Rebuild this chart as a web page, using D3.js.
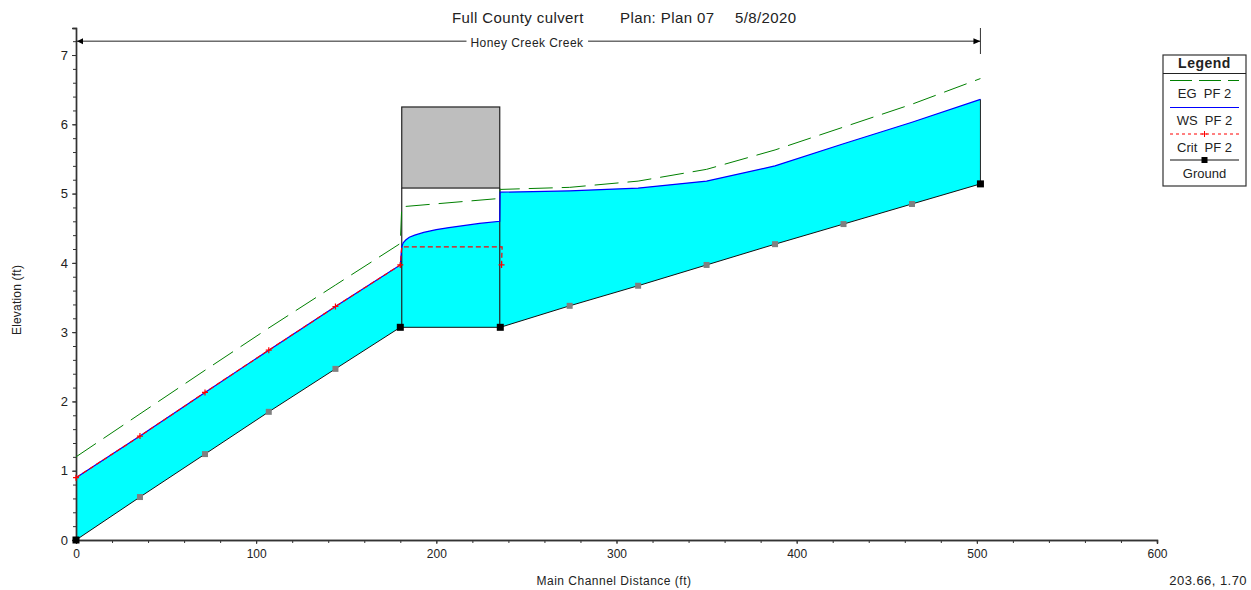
<!DOCTYPE html>
<html>
<head>
<meta charset="utf-8">
<script src="https://cdn.jsdelivr.net/npm/d3@7"></script>
<style>
  body { margin: 0; background: #fff; }
  text { font-family: "Liberation Sans", Arial, sans-serif; fill: #222; }
  .tick line, .domain { stroke: #333; }
</style>
</head>
<body>
<div id="container"></div>
<script>
let w = 1251;
let h = 590;

// station (ft) and elevation (ft)
let groundX = [0, 35.5, 71.6, 107, 144, 180, 235.5, 274, 312, 350, 388, 426, 464, 502];
let groundY = [0, 0.62, 1.24, 1.85, 2.47, 3.07, 3.07, 3.38, 3.67, 3.97, 4.27, 4.56, 4.85, 5.14];
let groundSolid = [0, 180, 235.5, 502];

let wsX = [0, 35.5, 71.6, 107, 144, 180, 180.8, 181.6, 183, 185, 188, 193, 200, 207, 224, 235.2, 235.4, 274, 312, 350, 388, 426, 464, 502];
let wsY = [0.9, 1.5, 2.13, 2.74, 3.37, 3.97, 4.23, 4.29, 4.33, 4.37, 4.4, 4.44, 4.48, 4.51, 4.57, 4.6, 5.02, 5.04, 5.08, 5.18, 5.4, 5.72, 6.03, 6.36];

let egX = [0, 35.5, 71.6, 107, 144, 180, 180.8, 235.2, 235.4, 274, 312, 350, 388, 426, 464, 502];
let egY = [1.2, 1.82, 2.45, 3.06, 3.68, 4.28, 4.81, 4.93, 5.06, 5.09, 5.18, 5.35, 5.63, 5.96, 6.29, 6.66];

let critX = [0, 35.5, 71.6, 107, 144, 180, 180.8, 236.5, 236.2];
let critY = [0.9, 1.5, 2.13, 2.74, 3.37, 3.97, 4.23, 4.23, 3.97];
let critMarks = [0, 35.5, 71.6, 107, 144, 180, 236.2];

let culvertX = [180.8, 235.2];
let culvertSoffit = 5.08;
let culvertRoad = 6.25;
let culvertInvert = 3.07;

let reachEnd = 502;
let reachElev = 7.2;
let reachName = "Honey Creek Creek";

let titleParts = ["Full County culvert", "Plan: Plan 07", "5/8/2020"];
let legendNames = ["EG  PF 2", "WS  PF 2", "Crit  PF 2", "Ground"];

let xMajor = [0, 100, 200, 300, 400, 500, 600];
let yMajor = [0, 1, 2, 3, 4, 5, 6, 7];

let x = d3.scaleLinear().domain([0, 600]).range([76, 1157]);
let y = d3.scaleLinear().domain([0, 7.39]).range([540, 28]);

let viz = d3.select("#container")
  .append("svg")
    .attr("width", w)
    .attr("height", h)
    .style("display", "block")
    .style("background-color", "#fff");

function pairs(xs, ys) {
  return xs.map((d, i) => [d, ys[i]]);
}

let line = d3.line().x(d => x(d[0])).y(d => y(d[1]));

let ground = pairs(groundX, groundY);
let ws = pairs(wsX, wsY);
let eg = pairs(egX, egY);
let crit = pairs(critX, critY);

// water between surface and ground
viz.append("path")
  .attr("d", line(ws.concat(ground.slice().reverse())) + "Z")
  .attr("fill", "#00ffff");

// axes
let xAxis = d3.axisBottom(x).tickValues(xMajor).tickSize(4).tickPadding(5).tickFormat(d3.format("d"));
let xMinor = d3.axisBottom(x).tickValues(d3.range(0, 601, 20)).tickSize(3).tickFormat("");
let yAxis = d3.axisLeft(y).tickValues(yMajor).tickSize(4).tickPadding(4).tickFormat(d3.format("d"));
let yMinor = d3.axisLeft(y).tickValues(d3.range(0, 7.3, 0.2)).tickSize(3).tickFormat("");

viz.append("g").attr("transform", "translate(0,540)").call(xMinor);
viz.append("g").attr("transform", "translate(0,540)").call(xAxis)
  .selectAll("text").style("font-size", "12px");
viz.append("g").attr("transform", "translate(76,0)").call(yMinor);
viz.append("g").attr("transform", "translate(76,0)").call(yAxis)
  .selectAll("text").style("font-size", "13px");
viz.selectAll(".domain").attr("stroke", "#333").attr("stroke-width", 1.4);

// culvert deck
viz.append("rect")
  .attr("x", x(culvertX[0]))
  .attr("y", y(culvertRoad))
  .attr("width", x(culvertX[1]) - x(culvertX[0]))
  .attr("height", y(culvertSoffit) - y(culvertRoad))
  .attr("fill", "#bebebe")
  .attr("stroke", "#222")
  .attr("stroke-width", 1.2);

// culvert faces
culvertX.forEach(function(d) {
  viz.append("path")
    .attr("d", line([[d, culvertSoffit], [d, culvertInvert]]))
    .attr("stroke", "#222")
    .attr("stroke-width", 1.2)
    .attr("fill", "none");
});

// end of the water at the upstream section
viz.append("path")
  .attr("d", line([[reachEnd, wsY[wsY.length - 1]], [reachEnd, groundY[groundY.length - 1]]]))
  .attr("stroke", "#222")
  .attr("fill", "none");

viz.append("path").attr("d", line(ground))
  .attr("fill", "none").attr("stroke", "#111").attr("stroke-width", 1);
viz.append("path").attr("d", line(eg))
  .attr("fill", "none").attr("stroke", "#008000").attr("stroke-width", 1)
  .attr("stroke-dasharray", "24 9");
viz.append("path").attr("d", line(ws))
  .attr("fill", "none").attr("stroke", "#0000ff").attr("stroke-width", 1.2);
viz.append("path").attr("d", line(crit))
  .attr("fill", "none").attr("stroke", "#ff0000").attr("stroke-width", 1.2)
  .attr("stroke-dasharray", "5 3");

// crit marks
viz.selectAll(".critmark").data(critMarks.map(d => crit.find(c => c[0] == d))).enter()
  .append("path")
    .attr("class", "critmark")
    .attr("transform", d => `translate(${x(d[0])},${y(d[1])})`)
    .attr("d", "M-3,0H3M0,-3V3")
    .attr("stroke", "#ff0000")
    .attr("stroke-width", 1.2);

// ground marks, black at the structure and ends
viz.selectAll(".groundmark").data(ground).enter()
  .append("rect")
    .attr("class", "groundmark")
    .attr("x", d => x(d[0]) - (groundSolid.includes(d[0]) ? 3.5 : 3))
    .attr("y", d => y(d[1]) - (groundSolid.includes(d[0]) ? 3.5 : 3))
    .attr("width", d => groundSolid.includes(d[0]) ? 7 : 6)
    .attr("height", d => groundSolid.includes(d[0]) ? 7 : 6)
    .attr("fill", d => groundSolid.includes(d[0]) ? "#000" : "#808080");

// reach arrow
viz.append("path")
  .attr("d", line([[0, reachElev], [reachEnd, reachElev]]))
  .attr("stroke", "#222").attr("fill", "none");
viz.append("path")
  .attr("transform", `translate(${x(0)},${y(reachElev)})`)
  .attr("d", "M1,0L7,-3V3Z").attr("fill", "#000");
viz.append("path")
  .attr("transform", `translate(${x(reachEnd)},${y(reachElev)})`)
  .attr("d", "M0,0L-7,-3V3Z").attr("fill", "#000");
viz.append("path")
  .attr("d", line([[reachEnd, y.invert(28)], [reachEnd, y.invert(54)]]))
  .attr("stroke", "#333").attr("fill", "none");

let reachBack = viz.append("rect").attr("fill", "#fff");
let reachLabel = viz.append("text")
  .attr("x", 527).attr("y", 47)
  .attr("text-anchor", "middle")
  .style("font-size", "12px")
  .style("letter-spacing", "0.45px")
  .text(reachName);
let bb = reachLabel.node().getBBox();
reachBack
  .attr("x", bb.x - 4).attr("y", bb.y).attr("width", bb.width + 8).attr("height", bb.height);

// title
viz.selectAll(".title").data(titleParts).enter()
  .append("text")
    .attr("class", "title")
    .attr("x", (d, i) => [452, 620, 735][i])
    .attr("y", 23)
    .style("font-size", "15px")
    .style("letter-spacing", "0.4px")
    .text(d => d);

// axis names and cursor readout
viz.append("text")
  .attr("transform", "translate(21,300) rotate(-90)")
  .attr("text-anchor", "middle")
  .style("font-size", "12px")
  .style("letter-spacing", "0.2px")
  .text("Elevation (ft)");
viz.append("text")
  .attr("x", 614).attr("y", 585)
  .attr("text-anchor", "middle")
  .style("font-size", "12px")
  .style("letter-spacing", "0.5px")
  .text("Main Channel Distance (ft)");
viz.append("text")
  .attr("x", 1247).attr("y", 585)
  .attr("text-anchor", "end")
  .style("font-size", "13px")
  .style("letter-spacing", "0.45px")
  .text("203.66, 1.70");

// legend
let legend = viz.append("g");
legend.append("rect")
  .attr("x", 1163).attr("y", 55).attr("width", 83).attr("height", 131)
  .attr("fill", "#fff").attr("stroke", "#333").attr("stroke-width", 1.2);
legend.append("line")
  .attr("x1", 1163).attr("x2", 1246).attr("y1", 73.5).attr("y2", 73.5)
  .attr("stroke", "#222");
legend.append("text")
  .attr("x", 1204.5).attr("y", 68)
  .attr("text-anchor", "middle")
  .style("font-size", "14px").style("font-weight", "bold")
  .style("letter-spacing", "0.5px")
  .text("Legend");

let legendStyles = [
  { color: "#008000", dash: "22 7" },
  { color: "#0000ff", dash: null },
  { color: "#ff0000", dash: "3 3" },
  { color: "#111", dash: null }
];
let legendRows = [80.5, 107.5, 134, 160];
legendNames.forEach(function(d, i) {
  legend.append("line")
    .attr("x1", 1170).attr("x2", 1239)
    .attr("y1", legendRows[i]).attr("y2", legendRows[i])
    .attr("stroke", legendStyles[i].color)
    .attr("stroke-dasharray", legendStyles[i].dash);
  legend.append("text")
    .attr("x", 1204.5).attr("y", legendRows[i] + 17.5)
    .attr("text-anchor", "middle")
    .style("font-size", "13px")
    .style("white-space", "pre")
    .text(d);
});
legend.append("path")
  .attr("transform", `translate(1204.5,${legendRows[2]})`)
  .attr("d", "M-3,0H3M0,-3V3").attr("stroke", "#ff0000");
legend.append("rect")
  .attr("x", 1201.5).attr("y", legendRows[3] - 3).attr("width", 6).attr("height", 6)
  .attr("fill", "#000");
</script>
</body>
</html>
